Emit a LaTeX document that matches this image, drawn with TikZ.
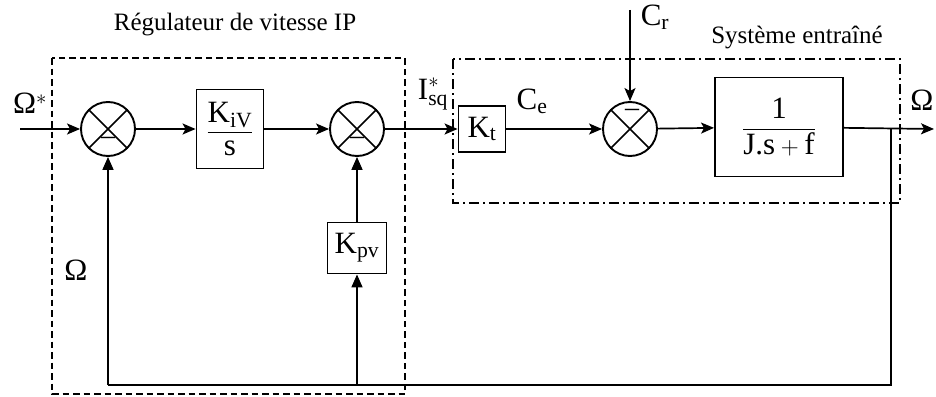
\documentclass[tikz,border=0pt]{standalone}
\usepackage{amsmath}
\usepackage{fontspec}
\setmainfont{Liberation Serif}
\usepackage{tikz}
\usetikzlibrary{arrows.meta,positioning,calc}

\begin{document}
\begin{tikzpicture}[x=1pt,y=-1pt,line width=1.7pt,
  lab/.style={font=\fontsize{31}{35}\selectfont,inner sep=0pt},
  titre/.style={font=\fontsize{25}{29}\selectfont,inner sep=0pt},
  bloc/.style={draw,line width=1.9pt,inner sep=0pt,font=\fontsize{31}{35}\selectfont},
  somme/.style={draw,circle,line width=1.9pt,minimum size=54pt,inner sep=0pt,
    path picture={\draw[line width=1.6pt]
      (path picture bounding box.north west) -- (path picture bounding box.south east)
      (path picture bounding box.north east) -- (path picture bounding box.south west);}},
  moins/.style={font=\fontsize{28}{30}\selectfont,inner sep=0pt},
  fl/.style={-{Stealth[length=13pt,width=11pt,inset=3pt]}},
  flh/.style={-{Triangle[length=13pt,width=11pt]}},
  cadre/.style={line width=2pt,dash pattern=on 6.5pt off 4pt},
  cadrept/.style={line width=1.8pt,dash pattern=on 10pt off 4pt on 2pt off 4pt}]
\useasboundingbox (0,0) rectangle (936,396);
% blocs
\node[somme] (s1) at (108,129) {};
\node[bloc,minimum width=67pt,minimum height=79pt] (kiv) at (230,129) {$\dfrac{\text{K}_{\text{iV}}}{\text{s}}$};
\node[somme] (s2) at (357,129) {};
\node[bloc,minimum width=47pt,minimum height=46pt] (kt) at (482,129) {K$_{\text{t}}$};
\node[somme] (s3) at (630,129) {};
\node[bloc,minimum width=128pt,minimum height=99pt] (g) at (779,127) {$\dfrac{\text{1}}{\text{J.s}+\text{f}}$};
\node[bloc,minimum width=59pt,minimum height=51pt] (kpv) at (357,248) {K$_{\text{pv}}$};
\node[moins] (m1) at (108,141) {–};
\node[moins] (m2) at (357,141) {–};
\node[moins] (m3) at (632,113) {–};
% chaine directe
\coordinate (in) at (20,129);
\coordinate (out) at (934,129);
\coordinate (cr) at (630,10);
\draw[fl] (in) -- (s1);
\draw[fl] (s1) -- (kiv);
\draw[fl] (kiv) -- (s2);
\draw[fl] (s2) -- (kt);
\draw[fl] (kt) -- (s3);
\draw[fl] (s3) -- (g);
\draw[fl] (g) -- (out);
\draw[fl] (cr) -- (s3);
% retour
\coordinate (br) at (891,129);
\coordinate (bd) at (891,385);
\coordinate (bg) at (108,385);
\coordinate (bk) at (357,385);
\draw (br) -- (bd) -- (bg);
\draw[flh] (bg) -- (s1);
\draw[flh] (bk) -- (kpv);
\draw[flh] (kpv) -- (s2);
% cadres
\draw[cadre] (52,58) rectangle (405,394);
\draw[cadrept] (453,59) rectangle (900,203);
% textes
\node[titre] (treg) at (235,25) {Régulateur de vitesse IP};
\node[titre] (tsys) at (797,38) {Système entraîné};
\node[lab] (lwr) at (30,103) {Ω$^{*}$};
\node[lab] (lisq) at (433,94) {$\text{I}^{*}_{\text{sq}}$};
\node[lab] (lce) at (532,101) {C$_{\text{e}}$};
\node[lab] (lcr) at (655,17) {C$_{\text{r}}$};
\node[lab] (lw) at (922,100) {Ω};
\node[lab] (lwf) at (76,270) {Ω};
\end{tikzpicture}
\end{document}
